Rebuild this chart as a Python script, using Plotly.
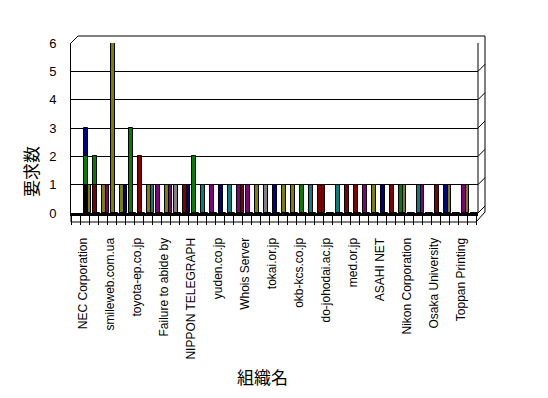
import plotly.graph_objects as go

# ---------------- data ----------------
NV, GR, MR, OL, PU, TL, GY, BK = "#000080", "#008000", "#800000", "#808000", "#800080", "#008080", "#808080", "#000000"

tick_labels = ["NEC Corporation", "smileweb.com.ua", "toyota-ep.co.jp", "Failure to abide by",
               "NIPPON TELEGRAPH", "yuden.co.jp", "Whois Server", "tokai.or.jp", "okb-kcs.co.jp",
               "do-johodai.ac.jp", "med.or.jp", "ASAHI NET", "Nikon Corporation",
               "Osaka University", "Toppan Printing"]
n_cats = 44
categories = list(range(n_cats))
label_positions = categories[::3]

front_values = [1, 1, 1, 6, 1, 3, 2, 1, 1, 1, 1, 1, 2, 1, 1, 1, 1, 1, 1, 1, 1, 1,
                1, 1, 1, 1, 1, 0, 1, 1, 1, 1, 1, 1, 1, 1, 0, 1, 0, 1, 1, 0, 1, 0]
front_colors = [BK, MR, OL, OL, OL, GR, MR, OL, PU, OL, GY, MR, GR, TL, PU, NV, TL, PU, PU, OL, GY, NV,
                OL, OL, GR, TL, MR, BK, TL, MR, MR, PU, OL, NV, MR, GR, BK, TL, BK, MR, NV, BK, PU, BK]

back_values = [1, 0, 1, 0, 1, 0, 0, 1, 0, 1, 0, 1, 0, 0, 0, 0, 0, 1, 0, 0, 0, 0,
               0, 0, 0, 0, 1, 0, 0, 0, 0, 0, 0, 0, 0, 1, 0, 1, 0, 0, 1, 0, 1, 0]
back_colors = [OL, BK, PU, BK, NV, BK, BK, TL, BK, PU, BK, NV, BK, BK, BK, BK, BK, MR, BK, BK, BK, BK,
               BK, BK, BK, BK, MR, BK, BK, BK, BK, BK, BK, BK, BK, OL, BK, PU, BK, BK, OL, BK, OL, BK]

# taller bars standing behind the front bars of the first categories
rear_top_values = [3, 2] + [0] * 42
rear_top_colors = [NV, GR] + [BK] * 42
rear_mid_values = [2] + [0] * 43
rear_mid_colors = [GR] + [BK] * 43

y_ticks = [0, 1, 2, 3, 4, 5, 6]

# ---------------- figure ----------------
PAGE_MARGIN = 8  # default body margin of the html page
W, H = 548 - PAGE_MARGIN, 398 - PAGE_MARGIN
PL, PR, PT, PB = 71, 478, 43, 213  # plot area in screen pixels


def px(x):
    return (x - PL) / (PR - PL)


def py(y):
    return (PB - y) / (PB - PT)


fig = go.Figure()
bar_line = dict(color="black", width=1)
fig.add_trace(go.Bar(x=categories, y=rear_top_values, offset=0.15, width=0.45,
                     marker=dict(color=rear_top_colors, line=bar_line)))
fig.add_trace(go.Bar(x=categories, y=rear_mid_values, offset=0.15, width=0.45,
                     marker=dict(color=rear_mid_colors, line=bar_line)))
fig.add_trace(go.Bar(x=categories, y=back_values, offset=0.45, width=0.45,
                     marker=dict(color=back_colors, line=bar_line)))
fig.add_trace(go.Bar(x=categories, y=front_values, offset=0.15, width=0.45,
                     marker=dict(color=front_colors, line=bar_line)))

k0 = -(83 - PL) / 9.0
k1 = (PR - 83) / 9.0

line = dict(color="black", width=1)
shapes = []
# 3D frame
shapes.append(dict(type="line", xref="paper", yref="paper", x0=px(71), y0=py(43), x1=px(78), y1=py(36), line=line))
shapes.append(dict(type="line", xref="paper", yref="paper", x0=px(78), y0=py(36), x1=px(485), y1=py(36), line=line))
shapes.append(dict(type="line", xref="paper", yref="paper", x0=px(485), y0=py(36), x1=px(485), y1=py(212), line=line))
shapes.append(dict(type="line", xref="paper", yref="paper", x0=px(478), y0=py(43), x1=px(478), y1=py(213), line=line))
shapes.append(dict(type="line", xref="paper", yref="paper", x0=px(485), y0=py(212), x1=px(476), y1=py(222), line=line))
shapes.append(dict(type="line", xref="paper", yref="paper", x0=px(71), y0=py(213), x1=px(71), y1=py(222), line=line))
shapes.append(dict(type="line", xref="paper", yref="paper", x0=px(71), y0=py(222), x1=px(476), y1=py(222), line=line))
for v in y_ticks:
    shapes.append(dict(type="line", xref="paper", yref="y", x0=1, y0=v, x1=px(485), y1=v + 7 / 28.33, line=line))

fig.update_layout(
    width=W, height=H,
    margin=dict(l=PL - PAGE_MARGIN, r=W - (PR - PAGE_MARGIN), t=PT - PAGE_MARGIN,
                b=H - (PB - PAGE_MARGIN), pad=0),
    paper_bgcolor="white", plot_bgcolor="white",
    barmode="overlay", bargap=0, showlegend=False, hovermode=False,
    font=dict(family="Liberation Sans, Arial, sans-serif", size=12, color="black"),
    shapes=shapes,
    xaxis=dict(range=[k0, k1], tickmode="array", tickvals=label_positions, ticktext=tick_labels,
               tickangle=-90, ticks="outside", ticklen=9, tickcolor="rgba(0,0,0,0)",
               ticklabelstandoff=8, tickfont=dict(size=12),
               showline=True, linecolor="black", linewidth=3, showgrid=False, zeroline=False,
               minor=dict(ticks="outside", ticklen=9, tickcolor="black", tick0=-1 / 3, dtick=1,
                          showgrid=False)),
    yaxis=dict(range=[0, 6], tickvals=y_ticks, ticks="", ticklabelstandoff=11,
               tickfont=dict(size=13),
               showline=True, linecolor="black", linewidth=1,
               showgrid=True, gridcolor="black", gridwidth=1, zeroline=False),
    annotations=[
        dict(text="要求数", xref="paper", yref="paper", x=px(30), y=py(172), showarrow=False,
             xanchor="center", yanchor="middle",
             textangle=-90, font=dict(family="Noto Sans CJK JP", size=17)),
        dict(text="組織名", xref="paper", yref="paper", x=px(262), y=py(376), showarrow=False,
             xanchor="center", yanchor="middle",
             font=dict(family="Noto Sans CJK JP", size=17)),
    ],
)

fig.write_html("out.html")
